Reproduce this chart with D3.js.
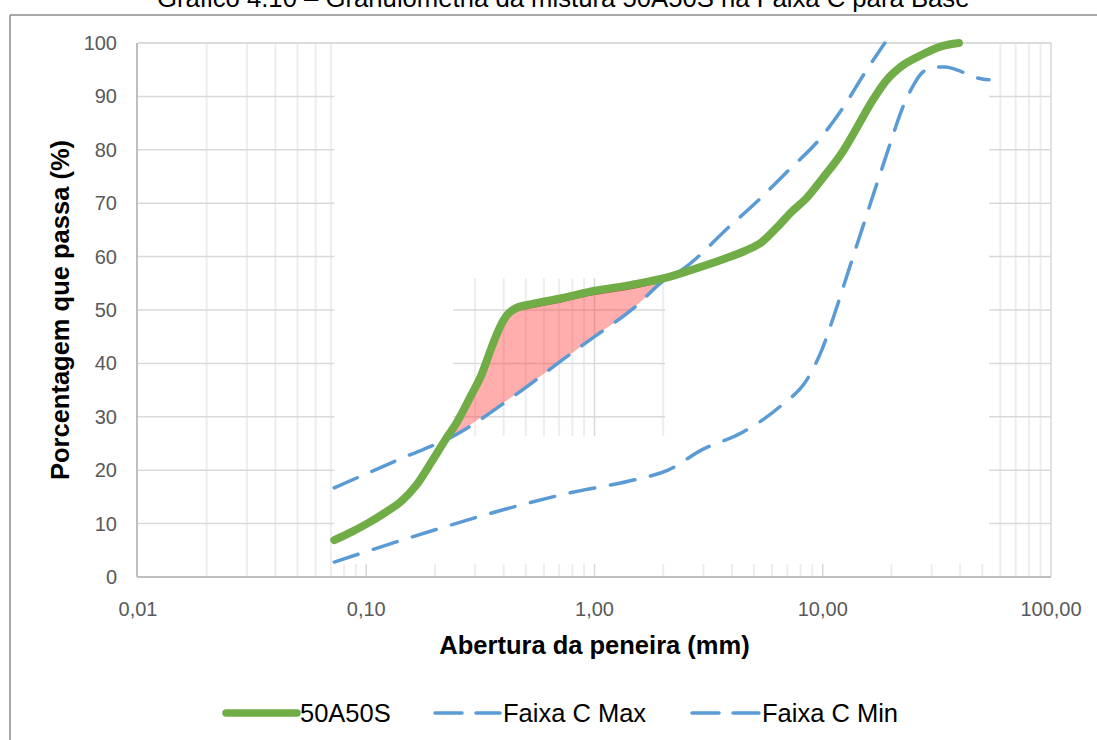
<!DOCTYPE html>
<html>
<head>
<meta charset="utf-8">
<script src="https://cdn.jsdelivr.net/npm/d3@7/dist/d3.min.js"></script>
<style>
  html, body { margin: 0; padding: 0; background: #fff; }
  text { font-family: "Liberation Sans", Arial, sans-serif; }
</style>
</head>
<body>
<svg id="chart" width="1097" height="740"></svg>
<script>
// Sieve openings (mm) and percent passing for the blend 50A50S
const sizes50 = [0.0724, 0.0859, 0.100, 0.1224, 0.1424, 0.1657, 0.1928, 0.2244, 0.2481, 0.2887,
                 0.3194, 0.3534, 0.3832, 0.4111, 0.4548, 0.5293, 0.7167, 1.0, 1.453, 2.04,
                 2.66, 3.61, 4.64, 5.40, 6.28, 7.31, 8.51, 10.0, 12.12, 14.09,
                 16.40, 19.08, 22.2, 27.2, 33.3, 39.5];
const pass50  = [6.9, 8.4, 9.9, 12.2, 14.2, 17.2, 21.5, 26.0, 28.8, 34.1,
                 37.8, 42.9, 46.6, 48.9, 50.4, 51.1, 52.2, 53.6, 54.7, 56.0,
                 57.5, 59.4, 61.2, 62.7, 65.4, 68.4, 71.0, 74.7, 79.4, 84.1,
                 89.0, 93.1, 95.7, 97.8, 99.4, 100];

// Upper limit of band C
const sizesMax = [0.0724, 0.15, 0.236, 0.464, 0.769, 1.0, 1.497, 2.05, 2.41, 3.87, 5.24, 7.10, 9.60, 12.1, 15.28, 18.7];
const passMax  = [16.7, 22.6, 26.2, 34.5, 41.5, 45.0, 50.5, 55.8, 57.5, 65.5, 70.6, 76.2, 81.8, 87.5, 94.4, 100];

// Lower limit of band C
const sizesMin = [0.0724, 0.199, 0.391, 0.769, 1.497, 2.10, 2.95, 4.41, 6.61, 8.51, 9.90, 11.29, 13.0,
                  14.83, 16.74, 18.5, 20.5, 22.2, 24.6, 27.2, 31.0, 34.3, 40.7, 46.4, 53.5];
const passMin  = [2.8, 8.8, 12.5, 15.7, 18.2, 20.0, 23.8, 27.0, 32.2, 36.9, 42.5, 49.4, 57.5,
                  65.0, 71.9, 77.5, 83.3, 87.5, 91.6, 94.4, 95.5, 95.5, 94.6, 93.6, 93.1];

// Opening range where the blend runs above the upper limit (shaded)
const shadedRange = [0.24, 2.0];

const yTicks = [0, 10, 20, 30, 40, 50, 60, 70, 80, 90, 100];
const xTicks = [0.01, 0.1, 1, 10, 100];
const xTickLabels = ["0,01", "0,10", "1,00", "10,00", "100,00"];

const seriesNames = ["50A50S", "Faixa C Max", "Faixa C Min"];
const titleText = "Gráfico 4.10 – Granulometria da mistura 50A50S na Faixa C para Base";

const GREEN = "#70AD47", BLUE = "#5B9BD5";
const DASH = "25,16";

const svg = d3.select("#chart");
const W = 1097, H = 740;
const plot = { left: 138, right: 1051, top: 43, bottom: 577 };

const x = d3.scaleLog().domain([0.01, 100]).range([plot.left, plot.right]);
const y = d3.scaleLinear().domain([0, 100]).range([plot.bottom, plot.top]);

// piecewise interpolators along each curve (log opening)
const greenAt = d3.scaleLog().domain(sizes50).range(pass50);
const maxAt = d3.scaleLog().domain(sizesMax).range(passMax);

svg.append("rect").attr("width", W).attr("height", H).attr("fill", "#fff");

// page frame and title (partly above the frame edge)
svg.append("text").attr("x", 157).attr("y", 7)
  .attr("font-size", 25.7).attr("fill", "#000").text(titleText);
svg.append("line").attr("x1", 10).attr("x2", W).attr("y1", 15).attr("y2", 15)
  .attr("stroke", "#8c8c8c").attr("stroke-width", 1.5);
svg.append("line").attr("x1", 10).attr("x2", 10).attr("y1", 15).attr("y2", H)
  .attr("stroke", "#8c8c8c").attr("stroke-width", 1.5);

// gridlines
const minorX = [];
[0.01, 0.1, 1, 10].forEach(k => { for (let m = 2; m <= 9; m++) minorX.push(k * m); });
const majorX = [0.1, 1, 10];

function drawGrid(g) {
  g.selectAll(".vmin").data(minorX).join("line")
    .attr("x1", d => x(d)).attr("x2", d => x(d))
    .attr("y1", plot.top).attr("y2", plot.bottom)
    .attr("stroke", "#EDEDED").attr("stroke-width", 2);
  g.selectAll(".vmaj").data(majorX).join("line")
    .attr("x1", d => x(d)).attr("x2", d => x(d))
    .attr("y1", plot.top).attr("y2", plot.bottom)
    .attr("stroke", "#D9D9D9").attr("stroke-width", 1.5);
  g.selectAll(".h").data(yTicks.slice(1)).join("line")
    .attr("x1", plot.left).attr("x2", plot.right)
    .attr("y1", d => y(d)).attr("y2", d => y(d))
    .attr("stroke", "#D9D9D9").attr("stroke-width", 1.5);
}
drawGrid(svg.append("g"));

// blank band over the data span
const allSizes = sizes50.concat(sizesMax, sizesMin);
const [dLo, dHi] = d3.extent(allSizes);
svg.append("rect")
  .attr("x", x(dLo)).attr("y", plot.top + 1)
  .attr("width", x(dHi) - x(dLo)).attr("height", y(2.4) - plot.top - 1)
  .attr("fill", "#fff");

// grid window behind the shaded zone
const patch = {
  x0: x(shadedRange[0]), x1: x(shadedRange[1]) + 2,
  y0: y(greenAt(shadedRange[1])), y1: y(maxAt(shadedRange[0]))
};
svg.append("clipPath").attr("id", "patchClip").append("rect")
  .attr("x", patch.x0).attr("y", patch.y0)
  .attr("width", patch.x1 - patch.x0).attr("height", patch.y1 - patch.y0);
drawGrid(svg.append("g").attr("clip-path", "url(#patchClip)"));

// axes frame
svg.append("line").attr("x1", plot.left).attr("x2", plot.right).attr("y1", plot.top).attr("y2", plot.top)
  .attr("stroke", "#D9D9D9").attr("stroke-width", 1.5);
svg.append("line").attr("x1", plot.right).attr("x2", plot.right).attr("y1", plot.top).attr("y2", plot.bottom)
  .attr("stroke", "#D9D9D9").attr("stroke-width", 1.5);
svg.append("line").attr("x1", plot.left - 1).attr("x2", plot.right).attr("y1", plot.bottom).attr("y2", plot.bottom)
  .attr("stroke", "#BFBFBF").attr("stroke-width", 2);
svg.append("line").attr("x1", plot.left - 1).attr("x2", plot.left - 1).attr("y1", plot.top).attr("y2", plot.bottom)
  .attr("stroke", "#BFBFBF").attr("stroke-width", 2);

// tick labels
svg.append("g").selectAll("text").data(yTicks).join("text")
  .attr("x", 117).attr("y", d => y(d)).attr("dy", "0.35em")
  .attr("text-anchor", "end").attr("font-size", 20).attr("fill", "#595959")
  .text(d => d);
svg.append("g").selectAll("text").data(xTicks).join("text")
  .attr("x", d => x(d)).attr("y", 609).attr("dy", "0.35em")
  .attr("text-anchor", "middle").attr("font-size", 20).attr("fill", "#595959")
  .text((d, i) => xTickLabels[i]);

// axis titles
svg.append("text").attr("x", (plot.left + plot.right) / 2).attr("y", 645).attr("dy", "0.35em")
  .attr("text-anchor", "middle").attr("font-size", 25.5).attr("font-weight", "bold")
  .text("Abertura da peneira (mm)");
svg.append("text").attr("transform", `translate(60,${(plot.top + plot.bottom) / 2}) rotate(-90)`)
  .attr("dy", "0.35em").attr("text-anchor", "middle").attr("font-size", 25.5).attr("font-weight", "bold")
  .text("Porcentagem que passa (%)");

// shaded zone between the blend and the upper limit
const shadedSizes = [shadedRange[0]]
  .concat(sizes50.filter(d => d > shadedRange[0] && d < shadedRange[1]), [shadedRange[1]]);
const area = d3.area().curve(d3.curveMonotoneX)
  .x(d => x(d)).y0(d => y(maxAt(d))).y1(d => y(greenAt(d)));
svg.append("path").datum(shadedSizes).attr("d", area)
  .attr("fill", "rgba(255,60,60,0.42)");
svg.append("path").datum(shadedSizes)
  .attr("d", d3.line().curve(d3.curveMonotoneX).x(d => x(d)).y(d => y(greenAt(d))))
  .attr("transform", "translate(0,3.5)")
  .attr("fill", "none").attr("stroke", "#b0563f").attr("stroke-width", 1.5);

// series
const line = d3.line().curve(d3.curveMonotoneX).x(d => x(d[0])).y(d => y(d[1]));
const zip = (a, b) => a.map((d, i) => [d, b[i]]);

svg.append("path").datum(zip(sizesMin, passMin)).attr("d", line)
  .attr("fill", "none").attr("stroke", BLUE).attr("stroke-width", 3.5)
  .attr("stroke-dasharray", DASH).attr("stroke-linecap", "round");
svg.append("path").datum(zip(sizesMax, passMax)).attr("d", line)
  .attr("fill", "none").attr("stroke", BLUE).attr("stroke-width", 3.5)
  .attr("stroke-dasharray", DASH).attr("stroke-linecap", "round");
svg.append("path").datum(zip(sizes50, pass50)).attr("d", line)
  .attr("fill", "none").attr("stroke", GREEN).attr("stroke-width", 8)
  .attr("stroke-linecap", "round").attr("stroke-linejoin", "round");

// legend
const legend = svg.append("g");
const legendItems = [
  { name: seriesNames[0], x0: 226, x1: 297, text: 300, color: GREEN, w: 7.5, dash: null },
  { name: seriesNames[1], x0: 435, x1: 500, text: 503, color: BLUE, w: 3.5, dash: "27,14" },
  { name: seriesNames[2], x0: 692, x1: 759, text: 762, color: BLUE, w: 3.5, dash: "27,14" }
];
legendItems.forEach(it => {
  legend.append("line").attr("x1", it.x0).attr("x2", it.x1).attr("y1", 713).attr("y2", 713)
    .attr("stroke", it.color).attr("stroke-width", it.w).attr("stroke-linecap", "round")
    .attr("stroke-dasharray", it.dash);
  legend.append("text").attr("x", it.text).attr("y", 713).attr("dy", "0.35em")
    .attr("font-size", 25.5).attr("fill", "#000").text(it.name);
});
</script>
</body>
</html>
